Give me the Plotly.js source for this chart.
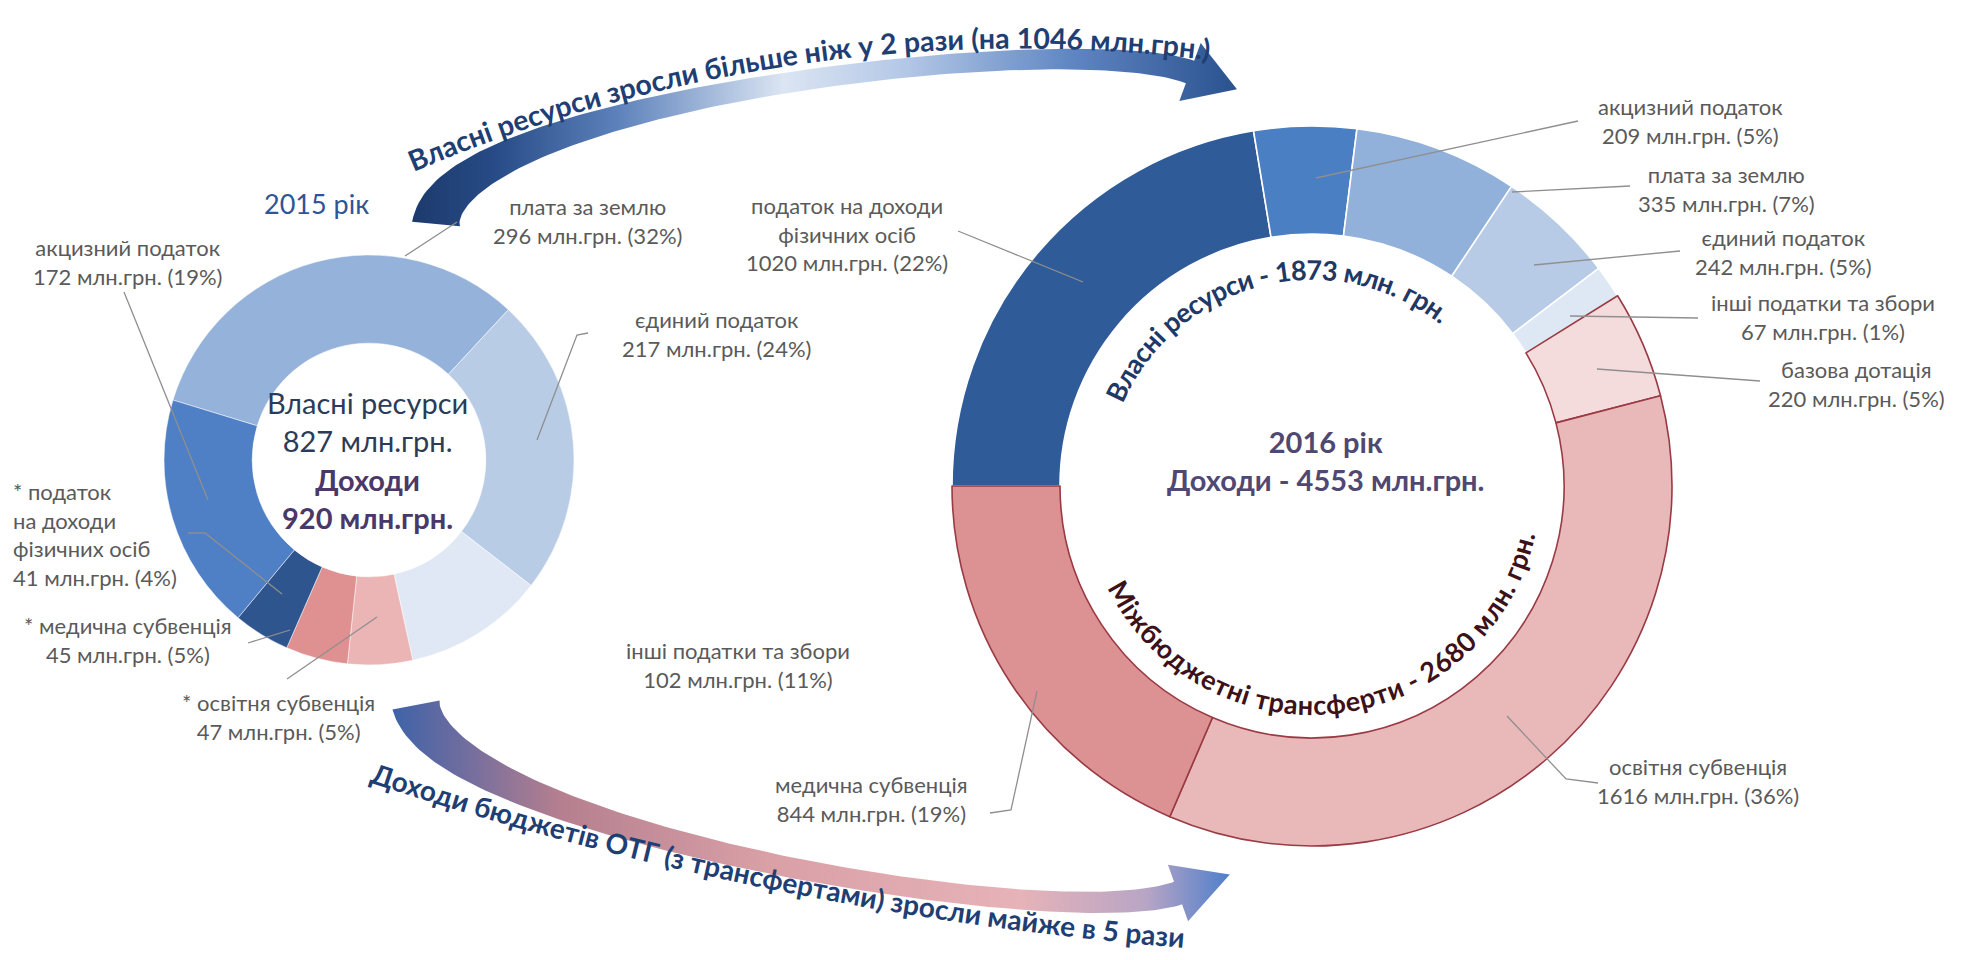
<!DOCTYPE html>
<html>
<head>
<meta charset="utf-8">
<script src="https://cdn.plot.ly/plotly-3.0.1.min.js"></script>
<style>
html,body{margin:0;padding:0;background:#fff;}
#chart{width:1964px;height:960px;position:relative;}
</style>
</head>
<body>
<div id="chart"></div>
<script>
// ---------------- DATA ----------------
const names2015 = ['плата за землю', 'єдиний податок', 'інші податки та збори', '* освітня субвенція',
                   '* медична субвенція', '* податок\nна доходи\nфізичних осіб', 'акцизний податок'];
const values2015 = [296, 217, 102, 47, 45, 41, 172];
const shares2015 = [32, 24, 11, 5, 5, 4, 19];

const names2016 = ['податок на доходи\nфізичних осіб', 'акцизний податок', 'плата за землю', 'єдиний податок',
                   'інші податки та збори', 'базова дотація', 'освітня субвенція', 'медична субвенція'];
const values2016 = [1020, 209, 335, 242, 67, 220, 1616, 844];
const shares2016 = [22, 5, 7, 5, 1, 5, 36, 19];

const year2015 = '2015 рік';
const year2016 = '2016 рік';
const own2015 = 827;
const income2015 = 920;
const own2016 = 1873;
const transfers2016 = 2680;
const income2016 = 4553;
const ownGrowth = 1046;

// ---------------- STYLE / LAYOUT ----------------
const W = 1964, H = 960;
const FONT = 'Lato, "Open Sans", sans-serif';
const colors2015 = ['#95b2db', '#b9cce6', '#dfe8f4', '#ebb5b5', '#df9090', '#2f558f', '#4f7fc4'];
const colors2016 = ['#2f5c98', '#4b7fc3', '#92b1da', '#b7cbe6', '#dde8f4', '#f4dcdc', '#e9b8b9', '#dc9292'];
const lines2016 = ['#ffffff', '#ffffff', '#ffffff', '#ffffff', '#ffffff', '#9a3a44', '#9a3a44', '#9a3a44'];

const pie2015 = {cx: 369, cy: 460, r: 205, hole: 0.57, rotation: -73};
const pie2016 = {cx: 1312, cy: 486, r: 360, hole: 0.70, rotation: 270};

// label anchor positions [x, yFirstLine, anchor]
const labPos2015 = [[587, 207], [716, 320], [738, 651], [278, 703], [128, 626], [12, 492, 'left'], [127, 248]];
const labPos2016 = [[847, 205], [1690, 107], [1726, 175], [1783, 238], [1823, 303], [1856, 370], [1698, 767], [871, 785]];
const leader2015 = ['M457,222 L405,256', 'M588,333 L577,335 L537,440', null, 'M287,679 L377,617',
                    'M248,643 L290,630', 'M188,533 L205,533 L282,594', 'M124,292 L208,500'];
const leader2016 = ['M958,231 L1083,282', 'M1578,121 L1316,178', 'M1630,186 L1512,192', 'M1680,251 L1534,265',
                    'M1698,318 L1570,316', 'M1760,381 L1597,369', 'M1598,783 L1566,779 L1507,716',
                    'M990,813 L1011,810 L1037,691'];
const LABEL_SIZE = 22;

function domainOf(p) {
  return {x: [(p.cx - p.r) / W, (p.cx + p.r) / W], y: [1 - (p.cy + p.r) / H, 1 - (p.cy - p.r) / H]};
}

const traces = [];
traces.push({
  type: 'pie', labels: names2015.map(s => s.replace(/\n/g, ' ')), values: values2015,
  domain: domainOf(pie2015), hole: pie2015.hole, sort: false, direction: 'clockwise',
  rotation: pie2015.rotation, textinfo: 'none', textposition: 'none', hoverinfo: 'none',
  marker: {colors: colors2015, line: {color: 'rgba(255,255,255,0.5)', width: 1}}, showlegend: false
});
traces.push({
  type: 'pie', labels: names2016.map(s => s.replace(/\n/g, ' ')), values: values2016,
  domain: domainOf(pie2016), hole: pie2016.hole, sort: false, direction: 'clockwise',
  rotation: pie2016.rotation, textinfo: 'none', textposition: 'none', hoverinfo: 'none',
  marker: {colors: colors2016, line: {color: lines2016, width: 1.6}}, showlegend: false
});

// curved arrows (decorative bands)
function arrowPolygon(P, wFn, headHalf, headLen, n) {
  const B = t => { const u = 1 - t;
    return [u*u*u*P[0][0] + 3*u*u*t*P[1][0] + 3*u*t*t*P[2][0] + t*t*t*P[3][0],
            u*u*u*P[0][1] + 3*u*u*t*P[1][1] + 3*u*t*t*P[2][1] + t*t*t*P[3][1]]; };
  const D = t => { const u = 1 - t;
    return [3*u*u*(P[1][0]-P[0][0]) + 6*u*t*(P[2][0]-P[1][0]) + 3*t*t*(P[3][0]-P[2][0]),
            3*u*u*(P[1][1]-P[0][1]) + 6*u*t*(P[2][1]-P[1][1]) + 3*t*t*(P[3][1]-P[2][1])]; };
  const L = [], R = [];
  for (let i = 0; i <= n; i++) {
    const t = i / n, b = B(t), d = D(t), len = Math.hypot(d[0], d[1]);
    const nx = -d[1] / len, ny = d[0] / len, w = wFn(t);
    L.push([b[0] + nx * w, b[1] + ny * w]); R.push([b[0] - nx * w, b[1] - ny * w]);
  }
  const e = B(1), d = D(1), len = Math.hypot(d[0], d[1]);
  const tx = d[0] / len, ty = d[1] / len, nx = -ty, ny = tx;
  const head = [[e[0] + nx * headHalf, e[1] + ny * headHalf], [e[0] + tx * headLen, e[1] + ty * headLen],
                [e[0] - nx * headHalf, e[1] - ny * headHalf]];
  const pts = L.concat(head, R.reverse(), [L[0]]);
  return {x: pts.map(p => p[0]), y: pts.map(p => p[1])};
}
const topArrow = arrowPolygon([[436, 224], [448, 100], [1070, 28], [1190, 72]],
  t => 7 + 17 * Math.pow(1 - t, 3) + 5 * t * t, 31, 50, 120);
const botArrow = arrowPolygon([[416, 705], [440, 830], [1060, 935], [1178, 893]],
  t => 7 + 17 * Math.pow(1 - t, 3) + 5 * t * t, 30, 55, 120);
traces.push({
  type: 'scatter', mode: 'lines', x: topArrow.x, y: topArrow.y, fill: 'toself',
  line: {width: 0, color: 'rgba(0,0,0,0)'}, hoverinfo: 'skip', showlegend: false,
  fillgradient: {type: 'horizontal', colorscale: [[0, '#1d3a6c'], [0.1, '#274b86'], [0.25, '#5d82bb'],
    [0.45, '#dbe5f3'], [0.6, '#b3c7e6'], [0.8, '#5f86c2'], [1, '#2a528f']]}
});
traces.push({
  type: 'scatter', mode: 'lines', x: botArrow.x, y: botArrow.y, fill: 'toself',
  line: {width: 0, color: 'rgba(0,0,0,0)'}, hoverinfo: 'skip', showlegend: false,
  fillgradient: {type: 'horizontal', colorscale: [[0, '#3e63a8'], [0.08, '#6d6c9f'], [0.2, '#b57f8f'],
    [0.45, '#d9a0a6'], [0.75, '#e6b3b8'], [0.9, '#b8a5c5'], [1, '#4f7fcb']]}
});

// annotations
const annotations = [];
function addBlock(lines, x, y0, opts) {
  const size = opts.size || LABEL_SIZE;
  const yc = y0 + (lines.length - 1) * size * 1.3 / 2;
  annotations.push({
    x: x, y: yc, xref: 'x', yref: 'y', text: lines.join('<br>'), showarrow: false,
    xanchor: opts.anchor || 'center', yanchor: 'middle', align: opts.anchor || 'center', borderpad: 0,
    font: {family: FONT, size: size, color: opts.color || '#5a5a5a', weight: opts.weight || 'normal'}
  });
}
names2015.forEach((nm, i) => {
  const p = labPos2015[i];
  addBlock(nm.split('\n').concat([values2015[i] + ' млн.грн. (' + shares2015[i] + '%)']), p[0], p[1], {anchor: p[2]});
});
names2016.forEach((nm, i) => {
  const p = labPos2016[i];
  addBlock(nm.split('\n').concat([values2016[i] + ' млн.грн. (' + shares2016[i] + '%)']), p[0], p[1], {anchor: p[2]});
});
addBlock([year2015], 316, 203, {size: 27, color: '#2e5597'});
addBlock(['Власні ресурси', own2015 + ' млн.грн.'], 367, 403, {size: 29, color: '#2b3b58'});
addBlock(['Доходи', income2015 + ' млн.грн.'], 367, 480, {size: 29, color: '#4a3868', weight: 'bold'});
addBlock([year2016, 'Доходи - ' + income2016 + ' млн.грн.'], 1326, 442, {size: 29, color: '#4f4872', weight: 'bold'});

const shapes = [];
leader2015.concat(leader2016).forEach(d => {
  if (d) shapes.push({type: 'path', path: d, xref: 'x', yref: 'y', line: {color: '#8f8f8f', width: 1.3}});
});

const layout = {
  width: W, height: H, margin: {l: 0, r: 0, t: 0, b: 0, pad: 0},
  paper_bgcolor: '#ffffff', plot_bgcolor: 'rgba(0,0,0,0)', showlegend: false, hovermode: false,
  xaxis: {range: [0, W], visible: false, fixedrange: true},
  yaxis: {range: [H, 0], visible: false, fixedrange: true},
  annotations: annotations, shapes: shapes
};

// curved texts (real text along paths)
function arcPath(cx, cy, r, a0, a1) {
  const p = a => [cx + r * Math.sin(a * Math.PI / 180), cy - r * Math.cos(a * Math.PI / 180)];
  const s = p(a0), e = p(a1);
  return 'M' + s[0].toFixed(1) + ',' + s[1].toFixed(1) + ' A' + r + ',' + r + ' 0 ' +
    (Math.abs(a1 - a0) > 180 ? 1 : 0) + ' ' + (a1 > a0 ? 1 : 0) + ' ' + e[0].toFixed(1) + ',' + e[1].toFixed(1);
}
const curved = [
  {d: arcPath(pie2016.cx, pie2016.cy, 216, -100, 72), text: 'Власні ресурси - ' + own2016 + ' млн. грн.',
   size: 27, color: '#1f3864', dy: '0.35em'},
  {d: arcPath(pie2016.cx, pie2016.cy, 219, 261, 85), text: 'Міжбюджетні трансферти - ' + transfers2016 + ' млн. грн.',
   size: 27, color: '#3d1118', dy: '0.35em'},
  {d: arcPath(1020, 1601.6, 1553, -29, 13), text: 'Власні ресурси зросли більше ніж у 2 рази (на ' + ownGrowth + ' млн.грн.)',
   size: 28.5, color: '#1f3f74', dy: '0'},
  {d: arcPath(1465, -2520, 3469.5, 201.5, 181.5), text: 'Доходи бюджетів ОТГ (з трансфертами) зросли майже в 5 рази',
   size: 28, color: '#1f3f74', dy: '0.35em'}
];

Plotly.newPlot('chart', traces, layout, {staticPlot: true, displayModeBar: false}).then(() => {
  const NS = 'http://www.w3.org/2000/svg';
  const svg = document.createElementNS(NS, 'svg');
  svg.setAttribute('width', W); svg.setAttribute('height', H);
  svg.style.position = 'absolute'; svg.style.left = '0'; svg.style.top = '0'; svg.style.pointerEvents = 'none';
  const defs = document.createElementNS(NS, 'defs'); svg.appendChild(defs);
  curved.forEach((c, i) => {
    const path = document.createElementNS(NS, 'path');
    path.setAttribute('id', 'cpath' + i); path.setAttribute('d', c.d); path.setAttribute('fill', 'none');
    defs.appendChild(path);
    const txt = document.createElementNS(NS, 'text');
    txt.setAttribute('font-family', FONT); txt.setAttribute('font-size', c.size);
    txt.setAttribute('font-weight', 'bold'); txt.setAttribute('fill', c.color);
    txt.setAttribute('text-anchor', 'middle'); txt.setAttribute('dy', c.dy);
    const tp = document.createElementNS(NS, 'textPath');
    tp.setAttribute('href', '#cpath' + i); tp.setAttribute('startOffset', '50%');
    tp.textContent = c.text;
    txt.appendChild(tp); svg.appendChild(txt);
  });
  document.getElementById('chart').appendChild(svg);
});
</script>
</body>
</html>
